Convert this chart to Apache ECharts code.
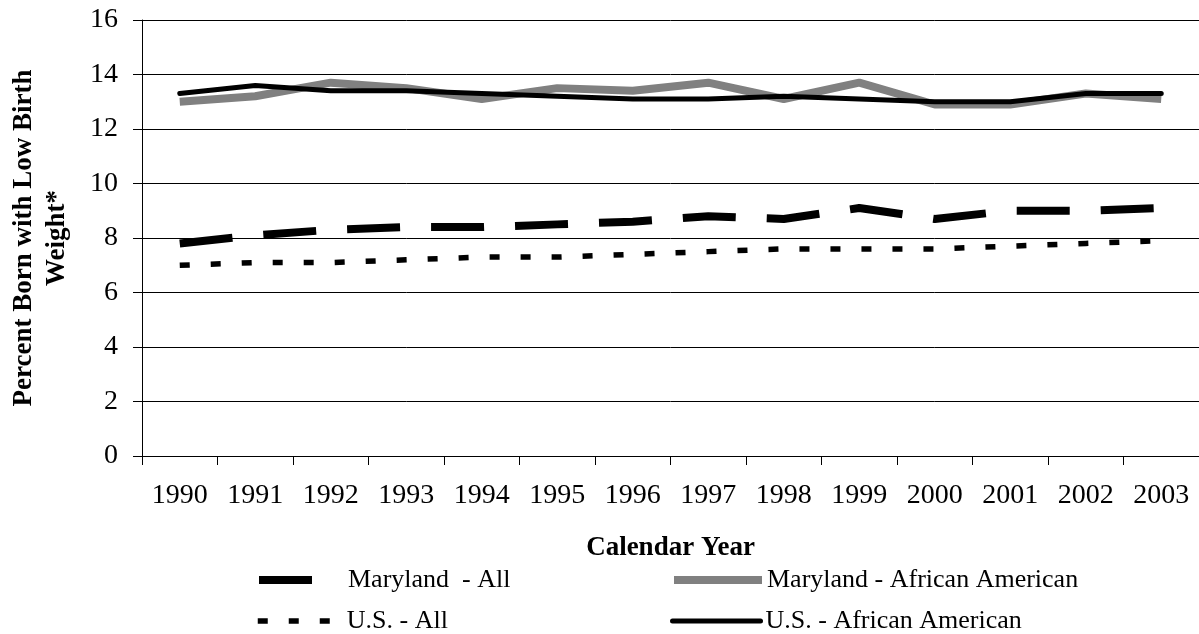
<!DOCTYPE html>
<html>
<head>
<meta charset="utf-8">
<script src="https://cdn.jsdelivr.net/npm/echarts@6/dist/echarts.min.js"></script>
<style>
    html, body { margin: 0; padding: 0; background: #fff; }
    #chart { width: 1199px; height: 634px; }
</style>
</head>
<body>
<div id="chart"></div>
<script>
    // values
    var years = ['1990', '1991', '1992', '1993', '1994', '1995', '1996', '1997', '1998', '1999', '2000', '2001', '2002', '2003'];
    var marylandAll = [7.8, 8.1, 8.3, 8.4, 8.4, 8.5, 8.6, 8.8, 8.7, 9.1, 8.7, 9.0, 9.0, 9.1];
    var marylandAA = [13.0, 13.2, 13.7, 13.5, 13.1, 13.5, 13.4, 13.7, 13.1, 13.7, 12.9, 12.9, 13.3, 13.1];
    var usAll = [7.0, 7.1, 7.1, 7.2, 7.3, 7.3, 7.4, 7.5, 7.6, 7.6, 7.6, 7.7, 7.8, 7.9];
    var usAA = [13.3, 13.6, 13.4, 13.4, 13.3, 13.2, 13.1, 13.1, 13.2, 13.1, 13.0, 13.0, 13.3, 13.3];
    var yTicks = { min: 0, max: 16, step: 2 };

    var font = '"Liberation Serif", "Times New Roman", serif';
    var chart = echarts.init(document.getElementById('chart'));

    // one legend per entry so each sits where the original puts it
    function legendItem(name, left, top, width) {
        return {
            left: left,
            top: top,
            padding: 0,
            itemWidth: width,
            itemHeight: 14,
            data: [name],
            textStyle: { fontFamily: font, fontSize: 26, color: '#000', lineHeight: 20 },
            lineStyle: { width: 'inherit', type: 'inherit' },
            itemStyle: { opacity: 0, color: 'rgba(0,0,0,0)', borderWidth: 0 }
        };
    }

    chart.setOption({
        animation: false,
        backgroundColor: '#fff',
        textStyle: { fontFamily: font, color: '#000' },
        grid: {
            left: 142,
            right: 0,
            top: 20,
            bottom: 178,
            containLabel: false,
            outerBoundsMode: 'none'
        },
        legend: [
            legendItem('Maryland  - All', 255, 567, 84),
            legendItem('U.S. - All', 255, 608, 84),
            legendItem('Maryland - African American', 670, 567, 88),
            legendItem('U.S. - African American', 670, 608, 88)
        ],
        xAxis: {
            type: 'category',
            data: years,
            boundaryGap: true,
            name: 'Calendar Year',
            nameLocation: 'middle',
            nameGap: 79,
            nameTextStyle: { fontFamily: font, fontSize: 27, fontWeight: 'bold', color: '#000' },
            axisLine: { lineStyle: { color: '#000', width: 1 } },
            axisTick: { show: true, length: 9, lineStyle: { color: '#000' } },
            axisLabel: { interval: 0, margin: 26, fontFamily: font, fontSize: 28, color: '#000' },
            splitLine: { show: false }
        },
        yAxis: {
            type: 'value',
            min: yTicks.min,
            max: yTicks.max,
            interval: yTicks.step,
            name: 'Percent Born with Low Birth\nWeight*',
            nameLocation: 'middle',
            nameGap: 68,
            nameTextStyle: { fontFamily: font, fontSize: 27, fontWeight: 'bold', color: '#000', lineHeight: 33, align: 'center' },
            axisLine: { show: true, lineStyle: { color: '#000', width: 1 } },
            axisTick: { show: true, length: 9, lineStyle: { color: '#000' } },
            axisLabel: { margin: 24, fontFamily: font, fontSize: 28, color: '#000' },
            splitLine: { show: true, lineStyle: { color: '#000', width: 1 } }
        },
        series: [{
            name: 'Maryland  - All',
            type: 'line',
            data: marylandAll,
            symbol: 'none',
            lineStyle: { color: '#000', width: 8, type: [53, 31], cap: 'butt' },
            itemStyle: { color: '#000' }
        }, {
            name: 'Maryland - African American',
            type: 'line',
            data: marylandAA,
            symbol: 'none',
            lineStyle: { color: '#808080', width: 8, type: 'solid', cap: 'butt' },
            itemStyle: { color: '#808080' }
        }, {
            name: 'U.S. - All',
            type: 'line',
            data: usAll,
            symbol: 'none',
            lineStyle: { color: '#000', width: 5.5, type: [10, 21], cap: 'butt' },
            itemStyle: { color: '#000' }
        }, {
            name: 'U.S. - African American',
            type: 'line',
            data: usAA,
            symbol: 'none',
            lineStyle: { color: '#000', width: 5, type: 'solid', cap: 'round' },
            itemStyle: { color: '#000' }
        }]
    });
</script>
</body>
</html>
